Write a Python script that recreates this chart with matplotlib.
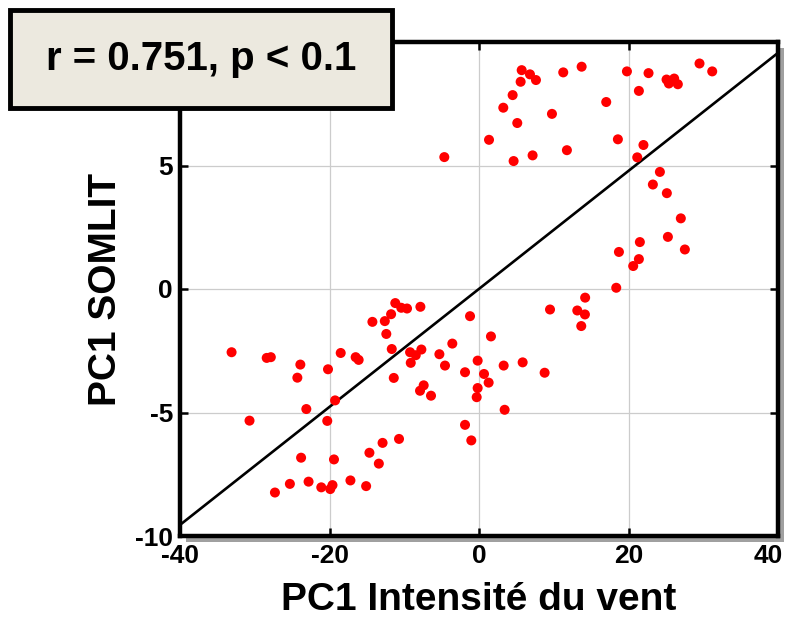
import matplotlib
matplotlib.use("Agg")
import matplotlib.pyplot as plt
from matplotlib.patches import Rectangle
import matplotlib.transforms as mtransforms

# ---- data ----
wind_pc1 = [
    5.71, 6.82, 7.62, 5.57, 4.5, 3.25, 5.12, 1.34, 4.63, 7.17, 11.76, 9.76, 11.27, 13.73,
    17.02, 18.58, 19.79, 21.39, 22.68, 25.09, 26.11, 25.4, 26.6, 29.5, 31.2, 22.0, 21.17,
    24.2, 23.26, 25.13, 27.0, 25.27, 27.54, 21.52, 18.72, 21.39, 20.63, 18.36, -4.64,
    -33.1, -28.4, -27.85, -23.9, -24.3, -20.2, -18.5, -16.5, -16.1, -14.26, -12.6, -11.76,
    -11.2, -10.4, -9.63, -7.84, -12.4, -11.67, -9.22, -8.46, -7.71, -9.13, -11.4, -7.89,
    -7.4, -6.42, -5.3, -3.57, -4.55, -1.2, -1.87, -0.18, -0.18, -0.31, -1.87, -1.03,
    -23.1, -19.25, -20.3, -30.7, -23.8, -19.4, -14.66, -12.9, -10.7, -13.4, -27.3, -25.3,
    -22.8, -21.1, -19.9, -19.6, -17.2, -15.1,
    14.2, 9.5, 13.15, 14.17, 13.68, 1.6, 3.3, 5.84, 8.78, 0.67, 1.29, 3.43,
]
somlit_pc1 = [
    8.86, 8.69, 8.46, 8.39, 7.85, 7.34, 6.72, 6.04, 5.18, 5.41, 5.62, 7.09, 8.77, 9.0,
    7.57, 6.06, 8.81, 8.02, 8.74, 8.48, 8.52, 8.32, 8.29, 9.13, 8.81, 5.83, 5.33,
    4.74, 4.23, 3.88, 2.86, 2.11, 1.60, 1.90, 1.50, 1.21, 0.93, 0.05, 5.34,
    -2.56, -2.79, -2.76, -3.06, -3.59, -3.25, -2.59, -2.76, -2.87, -1.33, -1.30, -1.02,
    -0.57, -0.76, -0.79, -0.72, -1.82, -2.43, -2.56, -2.68, -2.45, -2.99, -3.6, -4.12,
    -3.9, -4.32, -2.64, -2.21, -3.10, -1.10, -3.37, -2.9, -4.01, -4.38, -5.5, -6.13,
    -4.86, -4.51, -5.34, -5.33, -6.83, -6.9, -6.63, -6.23, -6.07, -7.07, -8.24, -7.89,
    -7.8, -8.03, -8.1, -7.94, -7.75, -7.98,
    -0.35, -0.83, -0.87, -1.03, -1.50, -1.92, -3.10, -2.97, -3.39, -3.44, -3.79, -4.89,
]
fit_x = [-40, 40]
fit_y = [-9.55, 9.56]
x_ticks = [-40, -20, 0, 20, 40]
x_tick_labels = ['-40', '-20', '0', '20', '40']
y_ticks = [-10, -5, 0, 5, 10]
y_tick_labels = ['-10', '-5', '0', '5', '']  # "10" is hidden behind the annotation box
annotation = "r = 0.751, p < 0.1"

plt.rcParams['font.family'] = ['Liberation Sans', 'DejaVu Sans']
plt.rcParams['axes.unicode_minus'] = False

W, H = 790, 620
fig = plt.figure(figsize=(W / 100, H / 100), dpi=100)
L, R, T, B = 180, 778, 42, 536
ax = fig.add_axes([L / W, 1 - B / H, (R - L) / W, (B - T) / H])

# shadow behind axes
fig.add_artist(Rectangle(((L + 6) / W, 1 - (B + 6) / H), (R - L) / W, (B - T) / H,
                         transform=fig.transFigure, facecolor='#a0a0a0',
                         edgecolor='none', zorder=0))
ax.set_zorder(1)
ax.set_facecolor('white')

ax.plot(fit_x, fit_y, color='black', linewidth=1.9, zorder=3)
ax.scatter(wind_pc1, somlit_pc1, s=52, color='#ff0000', edgecolors='none', zorder=4)

ax.set_xlim(-40, 40)
ax.set_ylim(-10, 10)
ax.set_xticks(x_ticks)
ax.set_xticklabels(x_tick_labels)
ax.set_yticks(y_ticks)
ax.set_yticklabels(y_tick_labels)
ax.grid(True, color='#cccccc', linewidth=0.9)
ax.set_axisbelow(True)
for sp in ax.spines.values():
    sp.set_linewidth(3.2)
    sp.set_color('black')
ax.tick_params(direction='in', length=6, width=1.8, top=True, right=True,
               labelsize=19)
ax.tick_params(axis='x', pad=6)
ax.tick_params(axis='y', pad=5)
for lab in ax.get_xticklabels() + ax.get_yticklabels():
    lab.set_fontweight('bold')
# keep the last x label inside the figure (shifted left, as in the reference)
last = ax.get_xticklabels()[-1]
last.set_transform(last.get_transform() +
                   mtransforms.ScaledTranslation(-10 / 100, 0, fig.dpi_scale_trans))

ax.set_xlabel('PC1 Intensité du vent', fontsize=28, fontweight='bold', labelpad=10)
ax.set_ylabel('PC1 SOMLIT', fontsize=28, fontweight='bold', labelpad=8)

# annotation box
bx0, by0, bx1, by1 = 10, 10, 392, 108
fig.add_artist(Rectangle((bx0 / W, 1 - by1 / H), (bx1 - bx0) / W, (by1 - by0) / H,
                         transform=fig.transFigure, facecolor='#ece9df',
                         edgecolor='black', linewidth=3.5, zorder=10))
fig.text((bx0 + bx1) / 2 / W, 1 - (by0 + by1) / 2 / H, annotation,
         ha='center', va='center', fontsize=29, fontweight='bold', zorder=11)

fig.savefig('out.png', dpi=100)
